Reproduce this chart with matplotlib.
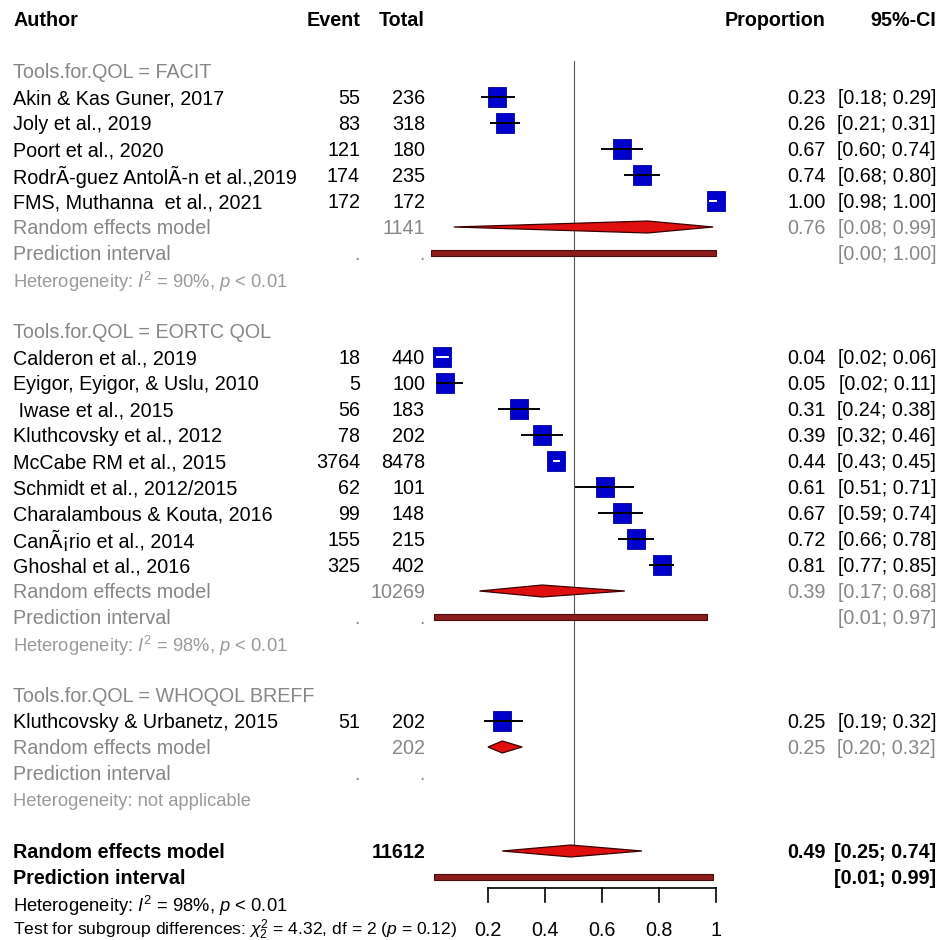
import matplotlib
matplotlib.use("Agg")
import matplotlib.pyplot as plt
from matplotlib.patches import Rectangle, Polygon

plt.rcParams['font.family'] = ['Liberation Sans', 'DejaVu Sans']
plt.rcParams['mathtext.fontset'] = 'custom'
plt.rcParams['mathtext.rm'] = 'Liberation Sans'
plt.rcParams['mathtext.it'] = 'Liberation Sans:italic'
plt.rcParams['mathtext.bf'] = 'Liberation Sans:bold'

# ---- data ----
groups = ["FACIT", "EORTC QOL", "WHOQOL BREFF"]
study = ["Akin & Kas Guner, 2017", "Joly et al., 2019", "Poort et al., 2020",
         "RodrÃ-guez AntolÃ-n et al.,2019", "FMS, Muthanna  et al., 2021",
         "Calderon et al., 2019", "Eyigor, Eyigor, & Uslu, 2010", " Iwase et al., 2015",
         "Kluthcovsky et al., 2012", "McCabe RM et al., 2015", "Schmidt et al., 2012/2015",
         "Charalambous & Kouta, 2016", "CanÃ¡rio et al., 2014", "Ghoshal et al., 2016",
         "Kluthcovsky & Urbanetz, 2015"]
group = [0, 0, 0, 0, 0, 1, 1, 1, 1, 1, 1, 1, 1, 1, 2]
event = [55, 83, 121, 174, 172, 18, 5, 56, 78, 3764, 62, 99, 155, 325, 51]
total = [236, 318, 180, 235, 172, 440, 100, 183, 202, 8478, 101, 148, 215, 402, 202]
prop = [0.23, 0.26, 0.67, 0.74, 1.00, 0.04, 0.05, 0.31, 0.39, 0.44, 0.61, 0.67, 0.72, 0.81, 0.25]
lower = [0.18, 0.21, 0.60, 0.68, 0.98, 0.02, 0.02, 0.24, 0.32, 0.43, 0.51, 0.59, 0.66, 0.77, 0.19]
upper = [0.29, 0.31, 0.74, 0.80, 1.00, 0.06, 0.11, 0.38, 0.46, 0.45, 0.71, 0.74, 0.78, 0.85, 0.32]

sub_total = [1141, 10269, 202]
sub_prop = [0.76, 0.39, 0.25]
sub_lower = [0.08, 0.17, 0.20]
sub_upper = [0.99, 0.68, 0.32]
sub_pi_lower = [0.00, 0.01, None]
sub_pi_upper = [1.00, 0.97, None]
sub_het = [r"Heterogeneity: $I^2$ = 90%, $p$ < 0.01",
           r"Heterogeneity: $I^2$ = 98%, $p$ < 0.01",
           "Heterogeneity: not applicable"]

all_total = 11612
all_prop, all_lower, all_upper = 0.49, 0.25, 0.74
all_pi = (0.01, 0.99)
all_het = r"Heterogeneity: $I^2$ = 98%, $p$ < 0.01"
subgroup_test = r"Test for subgroup differences: $\chi^2_2$ = 4.32, df = 2 ($p$ = 0.12)"

xticks = [0.2, 0.4, 0.6, 0.8, 1.0]
xticklabels = ["0.2", "0.4", "0.6", "0.8", "1"]

# ---- layout (pixel based helpers) ----
W, H = 939, 940
X0, XS = 431.0, 285.0      # pixel of proportion 0, pixels per unit
Y0, YS = 19.0, 26.0        # pixel of row 0, pixels per row


def px(x):
    return (x - X0) / XS


fig = plt.figure(figsize=(W / 100, H / 100), dpi=100)
ax = fig.add_axes([0, 0, 1, 1])
ax.set_xlim(px(0), px(W))
ax.set_ylim((H - Y0) / YS, -Y0 / YS)
ax.axis('off')

FS = 14.2
FS_S = 13.2
GREY = '#878787'
LGREY = '#9a9a9a'
BLUE = '#0000cc'
RED = '#e01010'
DRED = '#8b1c1c'
sq_w, sq_h = 18 / XS, 20 / YS
dia_h = 0.23

c_author, c_event, c_total = px(13), px(360), px(425)
c_prop, c_ci = px(826), px(936)


def txt(x, y, s, ha='left', color='black', size=FS, weight='normal'):
    ax.text(x, y, s, ha=ha, va='center_baseline', color=color, fontsize=size,
            fontweight=weight)


# header
txt(c_author, 0, "Author", weight='bold')
txt(c_event, 0, "Event", ha='right', weight='bold')
txt(c_total, 0, "Total", ha='right', weight='bold')
txt(c_prop, 0, "Proportion", ha='right', weight='bold')
txt(c_ci, 0, "95%-CI", ha='right', weight='bold')


def diamond(est, lo, hi, y):
    ax.add_patch(Polygon([(lo, y), (est, y - dia_h), (hi, y), (est, y + dia_h)],
                         closed=True, fc=RED, ec='#3a0000', lw=0.9, zorder=3))


def pi_bar(lo, hi, y):
    ax.add_patch(Rectangle((lo, y - 0.11), hi - lo, 0.22, fc=DRED, ec='#4a0a0a',
                           lw=0.8, zorder=3))


row = 2
for g, name in enumerate(groups):
    txt(c_author, row, "Tools.for.QOL = " + name, color=GREY)
    row += 1
    for i in range(len(study)):
        if group[i] != g:
            continue
        txt(c_author, row, study[i])
        txt(c_event, row, str(event[i]), ha='right')
        txt(c_total, row, str(total[i]), ha='right')
        txt(c_prop, row, "%.2f" % prop[i], ha='right')
        txt(c_ci, row, "[%.2f; %.2f]" % (lower[i], upper[i]), ha='right')
        ax.add_patch(Rectangle((prop[i] - sq_w / 2, row - sq_h / 2), sq_w, sq_h,
                               fc=BLUE, ec='#00009a', lw=0.6, zorder=4))
        inside = (upper[i] - lower[i]) < sq_w
        ax.plot([lower[i], upper[i]], [row, row], color='white' if inside else 'black',
                lw=1.4, zorder=5)
        row += 1
    # random effects
    txt(c_author, row, "Random effects model", color=GREY)
    txt(c_total, row, str(sub_total[g]), ha='right', color=GREY)
    txt(c_prop, row, "%.2f" % sub_prop[g], ha='right', color=GREY)
    txt(c_ci, row, "[%.2f; %.2f]" % (sub_lower[g], sub_upper[g]), ha='right', color=GREY)
    diamond(sub_prop[g], sub_lower[g], sub_upper[g], row)
    row += 1
    # prediction interval
    txt(c_author, row, "Prediction interval", color=GREY)
    txt(c_event, row, ".", ha='right', color=GREY)
    txt(c_total, row, ".", ha='right', color=GREY)
    if sub_pi_lower[g] is not None:
        txt(c_ci, row, "[%.2f; %.2f]" % (sub_pi_lower[g], sub_pi_upper[g]),
            ha='right', color=GREY)
        pi_bar(sub_pi_lower[g], sub_pi_upper[g], row)
    row += 1
    txt(c_author, row, sub_het[g], color=LGREY, size=FS_S)
    row += 2

# overall
txt(c_author, row, "Random effects model", weight='bold')
txt(c_total, row, str(all_total), ha='right', weight='bold')
txt(c_prop, row, "%.2f" % all_prop, ha='right', weight='bold')
txt(c_ci, row, "[%.2f; %.2f]" % (all_lower, all_upper), ha='right', weight='bold')
diamond(all_prop, all_lower, all_upper, row)
ref_bottom = row - dia_h
row += 1
txt(c_author, row, "Prediction interval", weight='bold')
txt(c_ci, row, "[%.2f; %.2f]" % all_pi, ha='right', weight='bold')
pi_bar(all_pi[0], all_pi[1], row)
axis_y = row + 0.42
row += 1
txt(c_author, row, all_het, size=FS_S)
row += 1
txt(c_author, row - 0.12, subgroup_test, size=12.6)

# reference line at 0.5
ax.plot([0.5, 0.5], [1.6, ref_bottom], color='#555555', lw=0.8, zorder=2)

# x axis
ax.plot([xticks[0], xticks[-1]], [axis_y, axis_y], color='black', lw=1.2)
for t, lab in zip(xticks, xticklabels):
    ax.plot([t, t], [axis_y, axis_y + 0.55], color='black', lw=1.2)
    txt(t, row, lab, ha='center')

fig.savefig("out.png", dpi=100)
